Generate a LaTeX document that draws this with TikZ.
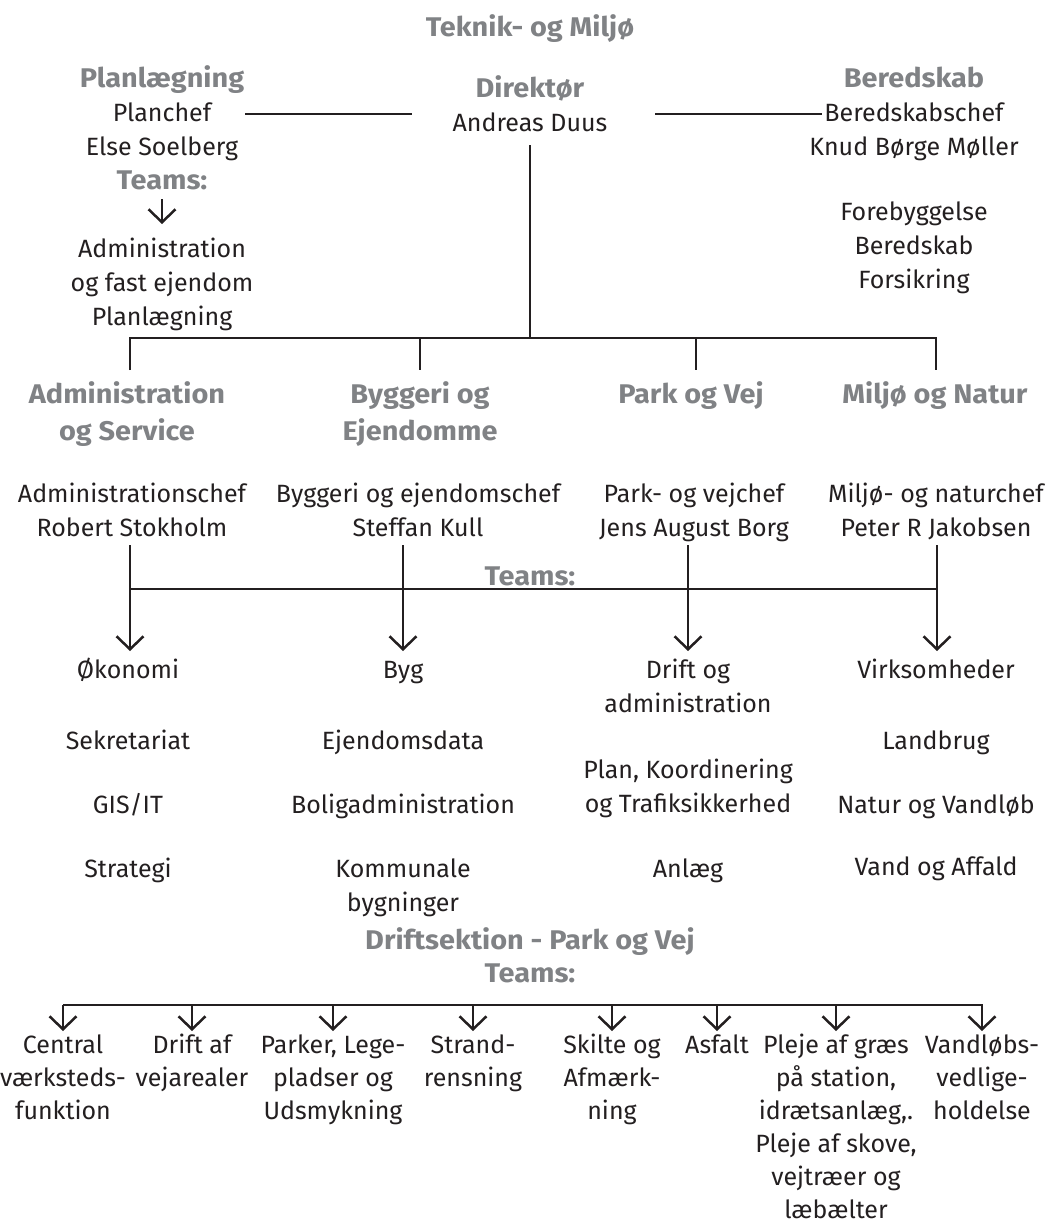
\documentclass[tikz,border=0pt]{standalone}
\usepackage{fontspec}
\setmainfont{Fira Sans}[BoldFeatures={FakeStretch=1.07}]
\usetikzlibrary{arrows.meta}
\definecolor{ink}{HTML}{231F20}
\definecolor{headgray}{HTML}{808285}
\tikzset{
  x=1pt, y=-1pt,
  txt/.style={anchor=base, align=center, inner sep=0pt, text=ink,
    font=\fontsize{25}{34}\selectfont},
  small/.style={txt, font=\fontsize{25}{33}\selectfont},
  head/.style={txt, text=headgray, font=\fontsize{27}{37}\selectfont\bfseries},
  % multi-line nodes sit on their last baseline: shift so the first line is at the given point
  nl/.style={yshift=-(#1-1)*34pt},
  snl/.style={yshift=-(#1-1)*33pt},
  hnl/.style={yshift=-(#1-1)*37pt},
  link/.style={draw=ink, line width=2.5pt},
  drop/.style={link, -{Straight Barb[length=13pt 0 0,width=27pt 0 0,line width=2.5pt]}},
}
\begin{document}
\begin{tikzpicture}
\useasboundingbox (0,0) rectangle (1055,1223);

% ---- top level ----
\node[head] (title) at (530,37) {Teknik- og Miljø};

\node[head] (planhead) at (162,87) {Planlægning};
\node[txt,nl=2] (planchef) at (162,121) {Planchef\\Else Soelberg};
\node[head] (planteams) at (162,189) {Teams:};
\node[txt,nl=3] (planlist) at (162,257) {Administration\\og fast ejendom\\Planlægning};

\node[head] (dirhead) at (530,97) {Direktør};
\node[txt] (dirname) at (530,131) {Andreas Duus};

\node[head] (beredhead) at (914,87) {Beredskab};
\node[txt,nl=2] (beredchef) at (914,121) {Beredskabschef\\Knud Børge Møller};
\node[txt,nl=3] (beredlist) at (914,220) {Forebyggelse\\Beredskab\\Forsikring};

\coordinate (planlink) at (245,114);
\coordinate (dirlinkL) at (412,114);
\coordinate (dirlinkR) at (655,114);
\coordinate (beredlink) at (822,114);
\draw[link] (planlink) -- (dirlinkL);
\draw[link] (dirlinkR) -- (beredlink);
\coordinate (planarrow) at (162,199);
\draw[drop] (planarrow) -- (162,224);

% ---- departments ----
\coordinate (bus) at (530,338);
\draw[link] (dirname.south |- 0,145) -- (bus);
\draw[link] (130,370) -- (130,338) -- (936,338) -- (936,370);
\draw[link] (420,338) -- (420,370);
\draw[link] (696,338) -- (696,370);

\node[head,hnl=2] (adm) at (127,403) {Administration\\og Service};
\node[head,hnl=2] (byg) at (420,403) {Byggeri og\\Ejendomme};
\node[head] (park) at (691,403) {Park og Vej};
\node[head] (milj) at (935,403) {Miljø og Natur};

\node[txt,nl=2] (admchef) at (132,502) {Administrationschef\\Robert Stokholm};
\node[txt,nl=2] (bygchef) at (418,502) {Byggeri og ejendomschef\\Steffan Kull};
\node[txt,nl=2] (parkchef) at (694,502) {Park- og vejchef\\Jens August Borg};
\node[txt,nl=2] (miljchef) at (936,502) {Miljø- og naturchef\\Peter R Jakobsen};

\node[head] (teams) at (530,585) {Teams:};
\draw[link] (130,589) -- (937,589);

% ---- teams per department ----
\node[txt] (a1) at (128,678) {Økonomi};
\node[txt] (a2) at (128,749) {Sekretariat};
\node[txt] (a3) at (128,813) {GIS/IT};
\node[txt] (a4) at (128,877) {Strategi};

\node[txt] (b1) at (403,678) {Byg};
\node[txt] (b2) at (403,749) {Ejendomsdata};
\node[txt] (b3) at (403,813) {Boligadministration};
\node[txt,nl=2] (b4) at (403,877) {Kommunale\\bygninger};

\node[txt,nl=2] (c1) at (688,678) {Drift og\\administration};
\node[txt,nl=2] (c2) at (688,778) {Plan, Koordinering\\og Trafiksikkerhed};
\node[txt] (c3) at (688,877) {Anlæg};

\node[txt] (d1) at (936,678) {Virksomheder};
\node[txt] (d2) at (936,749) {Landbrug};
\node[txt] (d3) at (936,813) {Natur og Vandløb};
\node[txt] (d4) at (936,875) {Vand og Affald};

\draw[drop] (130,545) -- (130,651);
\draw[drop] (403,545) -- (403,651);
\draw[drop] (688,545) -- (688,651);
\draw[drop] (937,545) -- (937,651);

% ---- operations section ----
\node[head] (drift) at (530,949) {Driftsektion - Park og Vej};
\node[head] (driftteams) at (530,982) {Teams:};
\draw[link] (63,1005) -- (983,1005);

\foreach \name/\x/\n/\label in {
  o1/63/3/{Central\\værksteds-\\funktion},
  o2/192/2/{Drift af\\vejarealer},
  o3/333/3/{Parker, Lege-\\pladser og\\Udsmykning},
  o4/473/2/{Strand-\\rensning},
  o5/612/3/{Skilte og\\Afmærk-\\ning},
  o6/717/1/{Asfalt},
  o7/836/6/{Pleje af græs\\på station,\\idrætsanlæg,.\\Pleje af skove,\\vejtræer og\\læbælter},
  o8/982/3/{Vandløbs-\\vedlige-\\holdelse}}{
  \node[small,snl=\n] (\name) at (\x,1053) {\label};
  \draw[drop] (\x,1005) -- (\x,1031);
}
\end{tikzpicture}
\end{document}
